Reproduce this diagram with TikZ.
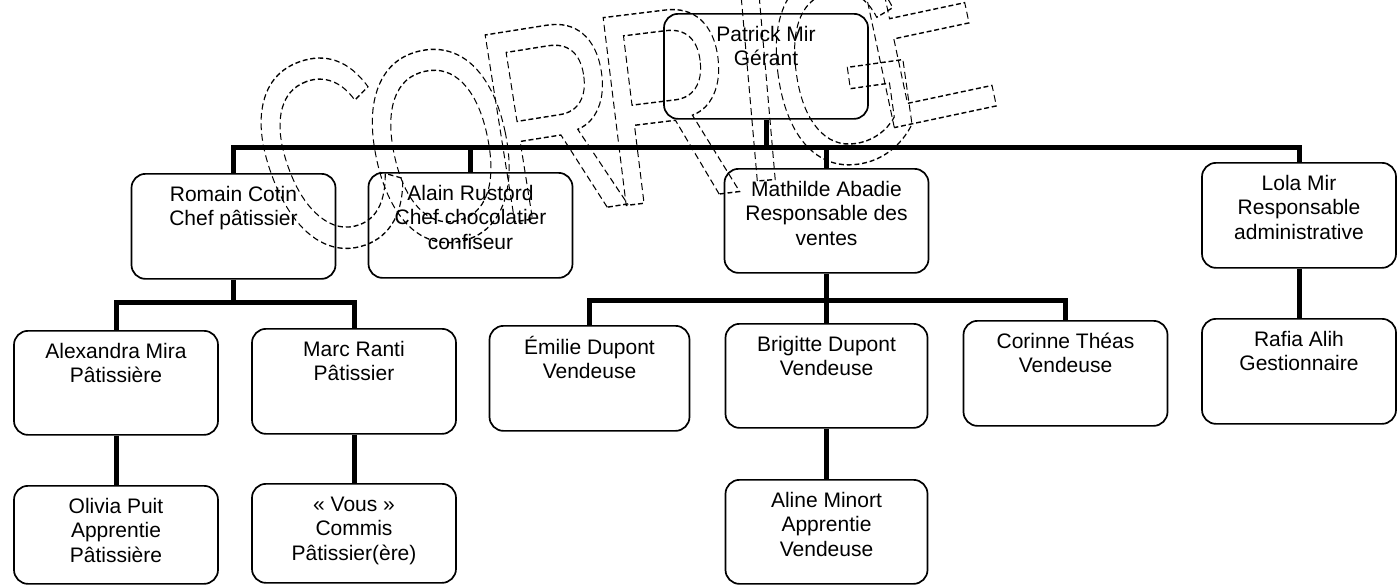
\documentclass[tikz,border=0pt]{standalone}
\usepackage{fontspec}
\setmainfont{Liberation Sans}
\usepackage{graphicx}
\newcommand{\whofont}{\fontsize{21}{24.5}\selectfont}
\newcommand{\ghostfont}{\fontsize{275}{275}\selectfont}
\newcommand{\ghostletter}[1]{\special{pdf:literal direct 1 Tr 1.4 w [7 4] 0 d}\scalebox{0.7}[1]{#1}\special{pdf:literal direct 0 Tr [] 0 d}}
\tikzset{
  whotext/.style={anchor=north, inner sep=0pt, yshift=-11pt, align=center, font=\whofont},
  staff/.style={draw, line width=1.7pt, rounded corners=14pt, minimum width=204pt,
    minimum height=105pt, anchor=north, inner sep=0pt, label={[whotext]north:\strut #1}},
  link/.style={line width=5pt},
  ghost/.style={inner sep=0pt, font=\ghostfont}
}
\begin{document}
\begin{tikzpicture}[x=1pt, y=-1pt]
\useasboundingbox (0,0) rectangle (1397,584);
% first level
\path (766,13) node[staff={Patrick Mir\\Gérant}] (patrick) {};
\path (233.5,173) node[staff={Romain Cotin\\Chef pâtissier}] (romain) {};
\path (470.5,172) node[staff={Alain Rustord\\Chef chocolatier\\confiseur}] (alain) {};
\path (826.5,168) node[staff={Mathilde Abadie\\Responsable des\\ventes}, minimum height=104pt] (mathilde) {};
\path (1299,162) node[staff={Lola Mir\\Responsable\\administrative}, minimum width=194pt] (lola) {};
% second level
\path (116,330) node[staff={Alexandra Mira\\Pâtissière}, minimum height=104pt] (alexandra) {};
\path (354,328) node[staff={Marc Ranti\\Pâtissier}] (marc) {};
\path (589.5,325) node[staff={Émilie Dupont\\Vendeuse}, minimum width=200pt] (emilie) {};
\path (826.5,323) node[staff={Brigitte Dupont\\Vendeuse}, minimum width=202pt, minimum height=104pt] (brigitte) {};
\path (1065.5,320) node[staff={Corinne Théas\\Vendeuse}] (corinne) {};
\path (1299,318) node[staff={Rafia Alih\\Gestionnaire}, minimum width=194pt] (rafia) {};
% third level
\path (116,485) node[staff={Olivia Puit\\Apprentie\\Pâtissière}, minimum height=98pt] (olivia) {};
\path (354,483) node[staff={« Vous »\\Commis\\Pâtissier(ère)}, minimum height=99pt] (vous) {};
\path (826.5,479) node[staff={Aline Minort\\Apprentie\\Vendeuse}, minimum width=202pt, minimum height=104pt] (aline) {};
% links
\coordinate (top) at (766,147);
\coordinate (pastry) at (233.5,302);
\coordinate (sales) at (826.5,300);
\draw[link] (patrick.south) -- (top);
\draw[link] (romain.north) |- (top) -| (lola.north);
\draw[link] (alain.north) -- (alain.north |- top);
\draw[link] (mathilde.north) -- (mathilde.north |- top);
\draw[link] (romain.south) -- (pastry);
\draw[link] (alexandra.north) |- (pastry) -| (marc.north);
\draw[link] (alexandra.south) -- (olivia.north);
\draw[link] (marc.south) -- (vous.north);
\draw[link] (mathilde.south) -- (brigitte.north);
\draw[link] (emilie.north) |- (sales) -| (corinne.north);
\draw[link] (brigitte.south) -- (aline.north);
\draw[link] (lola.south) -- (rafia.north);
% watermark
\foreach \ch/\x/\y/\r [count=\i] in {C/328/155/20, O/441/146/12, R/553/120/9, R/668/105/7, I/758/86/5, G/843/68/8, E/922/25/12}
  \node[ghost, rotate=\r] (wm\i) at (\x,\y) {\ghostletter{\ch}};
\end{tikzpicture}
\end{document}
